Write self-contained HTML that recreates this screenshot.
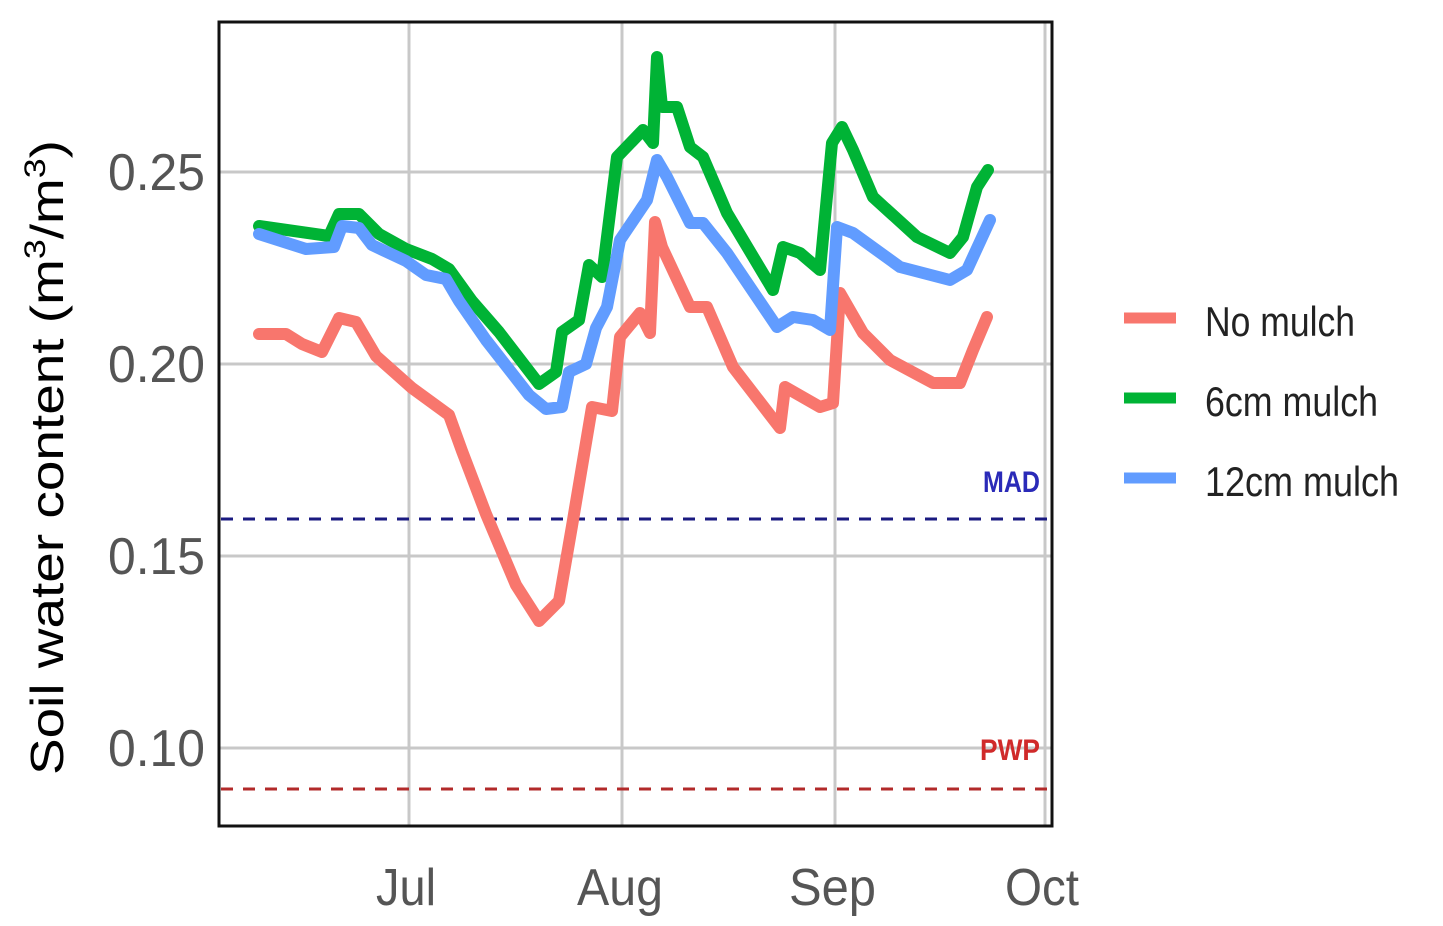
<!DOCTYPE html>
<html><head><meta charset="utf-8"><style>
html,body{margin:0;padding:0;background:#fff;}
svg{display:block;}
</style></head><body>
<svg width="1443" height="926" viewBox="0 0 1443 926" xmlns="http://www.w3.org/2000/svg" font-family="Liberation Sans, sans-serif">
<rect width="1443" height="926" fill="#fff"/>
<g stroke="#c8c8c8" stroke-width="3">
<line x1="409" y1="22" x2="409" y2="826"/>
<line x1="622" y1="22" x2="622" y2="826"/>
<line x1="835" y1="22" x2="835" y2="826"/>
<line x1="1045" y1="22" x2="1045" y2="826"/>
<line x1="219" y1="172" x2="1052" y2="172"/>
<line x1="219" y1="364" x2="1052" y2="364"/>
<line x1="219" y1="556" x2="1052" y2="556"/>
<line x1="219" y1="748" x2="1052" y2="748"/>
</g>
<line x1="221" y1="519" x2="1050" y2="519" stroke="#1a1a80" stroke-width="3" stroke-dasharray="12,10"/>
<line x1="221" y1="789" x2="1050" y2="789" stroke="#b22a2a" stroke-width="3" stroke-dasharray="12,10"/>
<text x="983" y="492" font-size="30" font-weight="bold" fill="#2a2ab8" textLength="57" lengthAdjust="spacingAndGlyphs">MAD</text>
<text x="980" y="760" font-size="30" font-weight="bold" fill="#d02a2a" textLength="60" lengthAdjust="spacingAndGlyphs">PWP</text>
<g fill="none" stroke-width="12" stroke-linejoin="round" stroke-linecap="round">
<polyline stroke="#f8766d" points="259,334 286,334 302,344 322,352 339,318 356,322 376,356 412,388 449,415 462,451 486,514 516,585 539,621 559,601 572,526 592,407 612,411 620,337 640,313 650,333 655,222 662,247 690,307 707,307 733,367 780,428 785,387 820,407 833,403 840,293 863,333 890,360 933,383 960,383 973,350 987,317"/>
<polyline stroke="#00b335" points="259,226 329,236 339,214 359,214 379,234 406,249 432,259 449,269 472,301 499,332 539,384 556,372 562,332 579,320 589,265 602,277 617,157 643,130 653,143 657,57 662,107 677,107 690,147 703,157 727,213 773,290 783,247 800,253 820,270 832,143 842,127 853,150 873,197 917,237 950,253 963,237 977,187 988,170"/>
<polyline stroke="#619cff" points="259,234 306,249 334,247 342,226 359,228 372,245 406,261 426,275 446,279 459,301 486,340 529,395 546,409 562,407 569,372 586,364 596,328 607,307 620,240 647,200 657,160 667,177 690,223 703,223 727,253 777,327 793,317 813,320 830,330 837,227 853,233 900,267 950,280 967,270 990,220"/>
</g>
<rect x="219" y="22" width="833" height="804" fill="none" stroke="#111" stroke-width="3"/>
<g font-size="52" fill="#555">
<text x="108" y="190" textLength="97" lengthAdjust="spacingAndGlyphs">0.25</text>
<text x="108" y="382" textLength="97" lengthAdjust="spacingAndGlyphs">0.20</text>
<text x="108" y="574" textLength="97" lengthAdjust="spacingAndGlyphs">0.15</text>
<text x="108" y="766" textLength="97" lengthAdjust="spacingAndGlyphs">0.10</text>
</g>
<g font-size="52" fill="#555">
<text x="376" y="905" textLength="60" lengthAdjust="spacingAndGlyphs">Jul</text>
<text x="577" y="905" textLength="86" lengthAdjust="spacingAndGlyphs">Aug</text>
<text x="789" y="905" textLength="87" lengthAdjust="spacingAndGlyphs">Sep</text>
<text x="1005" y="905" textLength="74" lengthAdjust="spacingAndGlyphs">Oct</text>
</g>
<text transform="translate(63 775) rotate(-90)" font-size="46" fill="#000" textLength="635" lengthAdjust="spacingAndGlyphs">Soil water content (m<tspan font-size="30" dy="-18">3</tspan><tspan dy="18">/m</tspan><tspan font-size="30" dy="-18">3</tspan><tspan dy="18">)</tspan></text>
<g stroke-width="11">
<line x1="1124" y1="318" x2="1176" y2="318" stroke="#f8766d"/>
<line x1="1124" y1="398" x2="1176" y2="398" stroke="#00b335"/>
<line x1="1124" y1="478" x2="1176" y2="478" stroke="#619cff"/>
</g>
<g font-size="42" fill="#222">
<text x="1205" y="336" textLength="150" lengthAdjust="spacingAndGlyphs">No mulch</text>
<text x="1205" y="416" textLength="173" lengthAdjust="spacingAndGlyphs">6cm mulch</text>
<text x="1205" y="496" textLength="194" lengthAdjust="spacingAndGlyphs">12cm mulch</text>
</g>
</svg>
</body></html>
